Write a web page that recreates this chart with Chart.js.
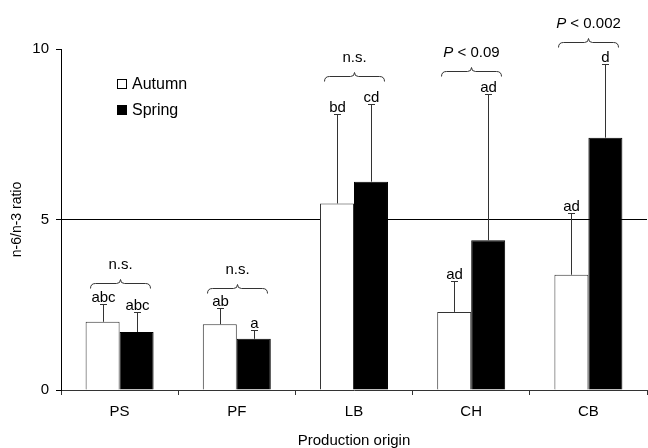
<!DOCTYPE html>
<html>
<head>
<meta charset="utf-8">
<script src="https://cdn.jsdelivr.net/npm/chart.js@4"></script>
<style>
    html, body { margin: 0; padding: 0; background: #fff; }
    canvas { display: block; }
</style>
</head>
<body>
<canvas id="chart" width="648" height="448"></canvas>
<script>
const categories = ["PS", "PF", "LB", "CH", "CB"];
const autumn = [2.0, 1.93, 5.47, 2.29, 3.38];
const spring = [1.70, 1.50, 6.11, 4.39, 7.40];
// upper error bar (SD)
const autumnSD = [0.51, 0.48, 2.62, 0.91, 1.82];
const springSD = [0.59, 0.27, 2.28, 4.30, 2.16];
const autumnLetters = ["abc", "ab", "bd", "ad", "ad"];
const springLetters = ["abc", "a", "cd", "ad", "d"];
const pairTests = ["n.s.", "n.s.", "n.s.", "P < 0.09", "P < 0.002"];
const braceLevels = [3.14, 2.99, 9.21, 9.36, 10.21];
const yTicks = [0, 5, 10];

const FONT = "'Liberation Sans', Arial, sans-serif";
const LINE = "#333";

const annotations = {
    id: "annotations",
    afterDatasetsDraw(chart) {
        const ctx = chart.ctx;
        const yScale = chart.scales.y;
        const xScale = chart.scales.x;
        const sds = [autumnSD, springSD];
        const letters = [autumnLetters, springLetters];

        ctx.save();
        ctx.strokeStyle = LINE;
        ctx.lineWidth = 1;
        ctx.fillStyle = "#000";
        ctx.font = `15px ${FONT}`;
        ctx.textAlign = "center";
        ctx.textBaseline = "alphabetic";

        // error bars + letters
        chart.data.datasets.forEach((ds, d) => {
            const meta = chart.getDatasetMeta(d);
            meta.data.forEach((bar, i) => {
                const x = Math.round(bar.x) + 0.5;
                const top = Math.round(yScale.getPixelForValue(ds.data[i] + sds[d][i])) + 0.5;
                ctx.beginPath();
                ctx.moveTo(x, bar.y);
                ctx.lineTo(x, top);
                ctx.moveTo(x - 3.5, top);
                ctx.lineTo(x + 3.5, top);
                ctx.stroke();
                ctx.fillText(letters[d][i], x, top - 3);
            });
        });

        // braces + pair tests
        categories.forEach((c, i) => {
            const xc = Math.round(xScale.getPixelForValue(i)) + 0.5;
            const y = Math.round(yScale.getPixelForValue(braceLevels[i])) + 0.5;
            const x0 = xc - 30;
            const x1 = xc + 30;
            ctx.beginPath();
            ctx.moveTo(x0, y + 5);
            ctx.quadraticCurveTo(x0, y, x0 + 5, y);
            ctx.lineTo(xc - 4, y);
            ctx.quadraticCurveTo(xc, y, xc, y - 4);
            ctx.quadraticCurveTo(xc, y, xc + 4, y);
            ctx.lineTo(x1 - 5, y);
            ctx.quadraticCurveTo(x1, y, x1, y + 5);
            ctx.stroke();

            const label = pairTests[i];
            const base = y - 15;
            if (label.startsWith("P ")) {
                const rest = label.slice(1);
                ctx.font = `italic 15px ${FONT}`;
                const wp = ctx.measureText("P").width;
                ctx.font = `15px ${FONT}`;
                const wr = ctx.measureText(rest).width;
                const start = xc - (wp + wr) / 2;
                ctx.textAlign = "left";
                ctx.font = `italic 15px ${FONT}`;
                ctx.fillText("P", start, base);
                ctx.font = `15px ${FONT}`;
                ctx.fillText(rest, start + wp, base);
                ctx.textAlign = "center";
            } else {
                ctx.fillText(label, xc, base);
            }
        });

        // legend
        ctx.textAlign = "left";
        ctx.textBaseline = "middle";
        ctx.font = `16px ${FONT}`;
        chart.data.datasets.forEach((ds, d) => {
            const ly = 79 + d * 26;
            ctx.fillStyle = ds.backgroundColor;
            ctx.fillRect(117, ly, 10, 10);
            ctx.strokeStyle = "#000";
            ctx.strokeRect(117.5, ly + 0.5, 9, 9);
            ctx.fillStyle = "#000";
            ctx.fillText(ds.label, 132, ly + 6);
        });
        ctx.restore();
    }
};

new Chart(document.getElementById("chart"), {
    type: "bar",
    data: {
        labels: categories,
        datasets: [
            {
                label: "Autumn",
                data: autumn,
                backgroundColor: "#fff",
                borderColor: LINE,
                borderWidth: 1,
                categoryPercentage: 0.58,
                barPercentage: 1
            },
            {
                label: "Spring",
                data: spring,
                backgroundColor: "#000",
                borderColor: "#000",
                borderWidth: 1,
                categoryPercentage: 0.58,
                barPercentage: 1
            }
        ]
    },
    options: {
        responsive: false,
        animation: false,
        layout: { padding: { top: 49, right: 1, left: 0, bottom: 0 } },
        plugins: {
            legend: { display: false },
            tooltip: { enabled: false }
        },
        scales: {
            x: {
                grid: {
                    drawOnChartArea: false,
                    offset: true,
                    tickLength: 5,
                    tickColor: LINE
                },
                border: { color: LINE, width: 1 },
                ticks: {
                    color: "#000",
                    padding: 8,
                    font: { family: FONT, size: 15 }
                },
                title: {
                    display: true,
                    text: "Production origin",
                    color: "#000",
                    padding: { top: 0, bottom: -2 },
                    font: { family: FONT, size: 15 }
                },
                afterFit: (scale) => { scale.height = 58; }
            },
            y: {
                min: 0,
                max: 10,
                afterBuildTicks: (scale) => {
                    scale.ticks = yTicks.map((v) => ({ value: v }));
                },
                grid: {
                    color: (ctx) => (ctx.tick && ctx.tick.value === 5 ? "#000" : "rgba(0,0,0,0)"),
                    tickColor: "#000",
                    tickLength: 5
                },
                border: { color: "#000", width: 1 },
                ticks: {
                    color: "#000",
                    padding: 7,
                    font: { family: FONT, size: 15 }
                },
                title: {
                    display: true,
                    text: "n-6/n-3 ratio",
                    color: "#000",
                    padding: { top: 9, bottom: 0 },
                    font: { family: FONT, size: 14 }
                },
                afterFit: (scale) => { scale.width = 61; }
            }
        }
    },
    plugins: [annotations]
});
</script>
</body>
</html>
